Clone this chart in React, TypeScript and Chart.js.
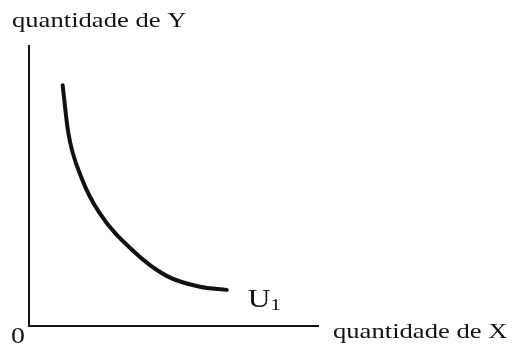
import React, { useEffect, useRef } from "react";
import { Chart, registerables } from "chart.js";

Chart.register(...registerables);

// Indifference curve U1: quantity of X against quantity of Y
const curveX = [1.18, 1.37, 1.84, 2.47, 3.61, 4.77, 5.92, 6.85];
const curveY = [8.6, 6.93, 5.27, 4.01, 2.69, 1.79, 1.4, 1.29];

const yAxisLabel = "quantidade de Y";
const xAxisLabel = "quantidade de X";
const originLabel = "0";
const curveLabel = "U";
const curveLabelSub = "1";

const FONT = '"Liberation Serif", "Times New Roman", serif';
const STRETCH = 1.21; // wide serif face

function wideText(ctx: CanvasRenderingContext2D, text: string, x: number, y: number) {
  ctx.save();
  ctx.translate(x, y);
  ctx.scale(STRETCH, 1);
  ctx.fillText(text, 0, 0);
  ctx.restore();
  return ctx.measureText(text).width * STRETCH;
}

const labelPlugin = {
  id: "diagramLabels",
  afterDraw(chart: any) {
    const { ctx, chartArea } = chart;
    ctx.save();
    ctx.fillStyle = "#111";
    ctx.textBaseline = "alphabetic";
    ctx.textAlign = "left";
    ctx.font = `22px ${FONT}`;
    wideText(ctx, yAxisLabel, 12, chartArea.top - 19);
    wideText(ctx, xAxisLabel, 333, chartArea.bottom + 12);
    ctx.font = `23px ${FONT}`;
    wideText(ctx, originLabel, 11, chartArea.bottom + 17);

    // curve name placed to the lower right of the curve's last point
    const xs = chart.scales.x;
    const ys = chart.scales.y;
    const lx = xs.getPixelForValue(curveX[curveX.length - 1]) + 21;
    const ly = ys.getPixelForValue(curveY[curveY.length - 1]) + 17;
    ctx.font = `26px ${FONT}`;
    const w = wideText(ctx, curveLabel, lx, ly);
    ctx.font = `17px ${FONT}`;
    wideText(ctx, curveLabelSub, lx + w, ly + 3);
    ctx.restore();
  },
};

export default function App() {
  const ref = useRef<HTMLCanvasElement>(null);

  useEffect(() => {
    if (!ref.current) return;
    const chart = new Chart(ref.current, {
      type: "line",
      data: {
        datasets: [
          {
            data: curveX.map((x, i) => ({ x, y: curveY[i] })),
            borderColor: "#111",
            borderWidth: 4,
            borderCapStyle: "round",
            pointRadius: 0,
            cubicInterpolationMode: "monotone",
            fill: false,
          },
        ],
      },
      options: {
        responsive: false,
        animation: false,
        layout: { padding: { left: 20.5, top: 46, right: 196, bottom: 14 } },
        plugins: { legend: { display: false }, tooltip: { enabled: false } },
        scales: {
          x: {
            type: "linear",
            min: 0,
            max: 10,
            grid: { display: false },
            ticks: { display: false },
            border: { display: true, color: "#111", width: 2 },
          },
          y: {
            type: "linear",
            min: 0,
            max: 10,
            grid: { display: false },
            ticks: { display: false },
            border: { display: true, color: "#111", width: 2 },
          },
        },
      },
      plugins: [labelPlugin],
    });
    return () => chart.destroy();
  }, []);

  return (
    <div style={{ position: "absolute", left: 0, top: 0, width: 514, height: 348, background: "#fff" }}>
      <canvas ref={ref} width={514} height={348} />
    </div>
  );
}
